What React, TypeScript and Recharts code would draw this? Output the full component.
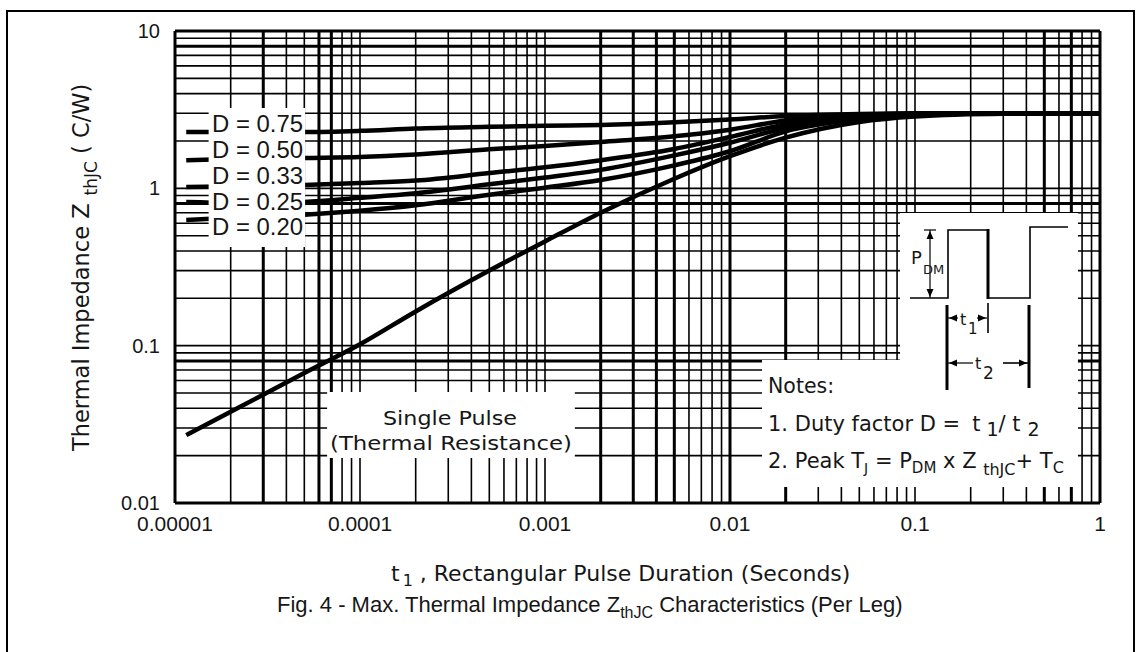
import React from 'react';
import { LineChart, Line, XAxis, YAxis, ReferenceLine, ReferenceArea } from 'recharts';

// ---- axis ticks ----
const xTicks = [1e-5, 1e-4, 1e-3, 1e-2, 1e-1, 1];
const xTickLabels = ['0.00001', '0.0001', '0.001', '0.01', '0.1', '1'];
const yTicks = [0.01, 0.1, 1, 10];
const yTickLabels = ['0.01', '0.1', '1', '10'];

// ---- log grid lines ----
const xGrid = [
  1e-5, 2e-5, 3e-5, 4e-5, 5e-5, 6e-5, 7e-5, 8e-5, 9e-5,
  1e-4, 2e-4, 3e-4, 4e-4, 5e-4, 6e-4, 7e-4, 8e-4, 9e-4,
  1e-3, 2e-3, 3e-3, 4e-3, 5e-3, 6e-3, 7e-3, 8e-3, 9e-3,
  1e-2, 2e-2, 3e-2, 4e-2, 5e-2, 6e-2, 7e-2, 8e-2, 9e-2,
  0.1, 0.2, 0.3, 0.4, 0.5, 0.6, 0.7, 0.8, 0.9, 1,
];
const xGridHeavy = [1e-5, 3e-5, 6e-5, 7e-5, 2e-3, 3e-3, 4e-3, 5e-3, 1e-2, 2e-2, 0.5, 0.7, 1];
const yGrid = [
  0.01, 0.02, 0.03, 0.04, 0.05, 0.06, 0.07, 0.08, 0.09,
  0.1, 0.2, 0.3, 0.4, 0.5, 0.6, 0.7, 0.8, 0.9,
  1, 2, 3, 4, 5, 6, 7, 8, 9, 10,
];
const yGridHeavy = [0.01, 0.08, 0.8, 8, 10];

// ---- curves: t1 (s) vs ZthJC (C/W) ----
const pulseDuration = [1.15e-5, 2e-5, 5e-5, 1e-4, 2e-4, 5e-4, 1e-3, 2e-3, 5e-3, 1e-2, 2e-2, 5e-2, 0.1, 0.3, 1];
const zD075 = [2.28, 2.28, 2.28, 2.32, 2.4, 2.46, 2.5, 2.53, 2.63, 2.74, 2.88, 2.97, 3.0, 3.0, 3.0];
const zD050 = [1.51, 1.53, 1.56, 1.58, 1.64, 1.77, 1.86, 1.97, 2.14, 2.36, 2.7, 2.92, 2.98, 3.0, 3.0];
const zD033 = [1.02, 1.03, 1.05, 1.08, 1.12, 1.25, 1.36, 1.51, 1.78, 2.12, 2.55, 2.85, 2.96, 3.0, 3.0];
const zD025 = [0.82, 0.81, 0.82, 0.87, 0.93, 1.06, 1.17, 1.31, 1.62, 1.95, 2.42, 2.8, 2.94, 3.0, 3.0];
const zD020 = [0.63, 0.65, 0.68, 0.72, 0.78, 0.91, 1.01, 1.13, 1.4, 1.72, 2.3, 2.75, 2.92, 3.0, 3.0];
const zSingle = [0.027, 0.038, 0.067, 0.102, 0.165, 0.3, 0.46, 0.7, 1.15, 1.6, 2.1, 2.64, 2.86, 2.98, 3.0];

const seriesKeys = ['d075', 'd050', 'd033', 'd025', 'd020', 'single'];
const seriesValues = [zD075, zD050, zD033, zD025, zD020, zSingle];

const data = pulseDuration.map((t, i) => {
  const row: Record<string, number> = { t };
  seriesKeys.forEach((k, j) => {
    row[k] = seriesValues[j][i];
  });
  return row;
});

// white label panels (data units)
const panels = [
  { x1: 1.52e-5, x2: 5.05e-5, y1: 0.424, y2: 3.24 },
  { x1: 6.64e-5, x2: 1.45e-3, y1: 0.0193, y2: 0.0507 },
  { x1: 0.083, x2: 0.76, y1: 0.081, y2: 0.697 },
  { x1: 0.0149, x2: 0.76, y1: 0.01264, y2: 0.081 },
];

const dLabels = ['D = 0.75', 'D = 0.50', 'D = 0.33', 'D = 0.25', 'D = 0.20'];
const dLabelBaselines = [132, 158, 184, 210, 235];

const W = 1141;
const H = 652;
const sans = "'DejaVu Sans', sans-serif";
const arial = "'Liberation Sans', Arial, sans-serif";
const ink = '#161616';

const fmtX = (v: number) => {
  const i = xTicks.findIndex((t) => Math.abs(Math.log10(t) - Math.log10(v)) < 1e-6);
  return i >= 0 ? xTickLabels[i] : '';
};
const fmtY = (v: number) => {
  const i = yTicks.findIndex((t) => Math.abs(Math.log10(t) - Math.log10(v)) < 1e-6);
  return i >= 0 ? yTickLabels[i] : '';
};

const Arrow = ({ x, y, dir }: { x: number; y: number; dir: 'l' | 'r' | 'u' | 'd' }) => {
  const s = 5;
  let pts = '';
  if (dir === 'l') pts = `${x},${y} ${x + s * 1.6},${y - s * 0.7} ${x + s * 1.6},${y + s * 0.7}`;
  if (dir === 'r') pts = `${x},${y} ${x - s * 1.6},${y - s * 0.7} ${x - s * 1.6},${y + s * 0.7}`;
  if (dir === 'u') pts = `${x},${y} ${x - s * 0.7},${y + s * 1.6} ${x + s * 0.7},${y + s * 1.6}`;
  if (dir === 'd') pts = `${x},${y} ${x - s * 0.7},${y - s * 1.6} ${x + s * 0.7},${y - s * 1.6}`;
  return <polygon points={pts} fill="#000" />;
};

export default function App() {
  return (
    <div
      style={{
        position: 'absolute',
        left: 0,
        top: 0,
        width: W,
        height: H,
        overflow: 'hidden',
        background: '#fff',
      }}
    >
      <div
        style={{
          position: 'absolute',
          left: 6,
          top: 10,
          width: 1129,
          height: 700,
          boxSizing: 'border-box',
          border: '2px solid #000',
        }}
      />
      <div style={{ position: 'absolute', left: 0, top: 0 }}>
        <LineChart
          width={W}
          height={H}
          data={data}
          margin={{ top: 31, right: 41, bottom: 119, left: 115 }}
        >
          <XAxis
            dataKey="t"
            type="number"
            scale="log"
            domain={[1e-5, 1]}
            allowDataOverflow
            ticks={xTicks}
            interval={0}
            tickFormatter={fmtX}
            axisLine={false}
            tickLine={false}
            tickMargin={7}
            height={30}
            tick={{ fontSize: 21, fill: ink, fontFamily: arial }}
          />
          <YAxis
            type="number"
            scale="log"
            domain={[0.01, 10]}
            allowDataOverflow
            ticks={yTicks}
            interval={0}
            tickFormatter={fmtY}
            axisLine={false}
            tickLine={false}
            tickMargin={9}
            width={60}
            tick={{ fontSize: 20, fill: ink, fontFamily: arial }}
          />
          {xGrid.map((v) => (
            <ReferenceLine
              key={'vx' + v}
              x={v}
              stroke="#000"
              strokeWidth={xGridHeavy.includes(v) ? 3 : 1.6}
              zIndex={-50}
            />
          ))}
          {yGrid.map((v) => (
            <ReferenceLine
              key={'hy' + v}
              y={v}
              stroke="#000"
              strokeWidth={yGridHeavy.includes(v) ? 3 : 1.6}
              zIndex={-50}
            />
          ))}
          {seriesKeys.map((k) => (
            <Line
              key={k}
              dataKey={k}
              type="monotone"
              stroke="#000"
              strokeWidth={4.5}
              dot={false}
              activeDot={false}
              isAnimationActive={false}
            />
          ))}
          {panels.map((p, i) => (
            <ReferenceArea
              key={'p' + i}
              x1={p.x1}
              x2={p.x2}
              y1={p.y1}
              y2={p.y2}
              fill="#fff"
              fillOpacity={1}
              stroke="none"
              zIndex={450}
            />
          ))}
        </LineChart>
      </div>
      <svg
        width={W}
        height={H}
        style={{ position: 'absolute', left: 0, top: 0, pointerEvents: 'none' }}
      >
        {/* D labels */}
        {dLabels.map((s, i) => (
          <text
            key={s}
            x={212}
            y={dLabelBaselines[i]}
            fontFamily={arial}
            fontSize={23}
            fill={ink}
            textLength={91}
            lengthAdjust="spacingAndGlyphs"
          >
            {s}
          </text>
        ))}

        {/* Single pulse */}
        <text x={450} y={425} textAnchor="middle" fontFamily={sans} fontSize={20} fill={ink} textLength={134} lengthAdjust="spacingAndGlyphs">
          Single Pulse
        </text>
        <text x={451} y={450} textAnchor="middle" fontFamily={sans} fontSize={20} fill={ink} textLength={242} lengthAdjust="spacingAndGlyphs">
          (Thermal Resistance)
        </text>

        {/* Notes */}
        <text x={768} y={393} fontFamily={sans} fontSize={20.5} fill={ink}>
          Notes:
        </text>
        <text x={768} y={431} fontFamily={sans} fontSize={21} fill={ink}>
          1. Duty factor D =
          <tspan dx={12}>t</tspan>
          <tspan dx={6} dy={5} fontSize={19}>1</tspan>
          <tspan dy={-5}>/ t</tspan>
          <tspan dx={7} dy={5} fontSize={19}>2</tspan>
        </text>
        <text x={768} y={468} fontFamily={sans} fontSize={21} fill={ink}>
          2. Peak T
          <tspan dy={5} fontSize={14}>J</tspan>
          <tspan dy={-5}> = P</tspan>
          <tspan dy={5} fontSize={15}>DM</tspan>
          <tspan dy={-5}> x Z </tspan>
          <tspan dy={7} fontSize={16}>thJC</tspan>
          <tspan dy={-7}>+ T</tspan>
          <tspan dy={5} fontSize={16}>C</tspan>
        </text>

        {/* Pulse diagram */}
        <polyline
          points="910,298 948,298 948,230 988,230"
          fill="none"
          stroke="#000"
          strokeWidth={1.6}
        />
        <line x1={988} y1={229} x2={988} y2={299} stroke="#000" strokeWidth={3} />
        <polyline
          points="988,298 1030,298 1030,227 1068,227"
          fill="none"
          stroke="#000"
          strokeWidth={1.6}
        />
        <line x1={924} y1={230} x2={936} y2={230} stroke="#000" strokeWidth={1.2} />
        <line x1={930} y1={230} x2={930} y2={298} stroke="#000" strokeWidth={1.2} />
        <Arrow x={930} y={231} dir="u" />
        <Arrow x={930} y={297} dir="d" />
        <text x={911} y={264} fontFamily={sans} fontSize={18} fill={ink}>P</text>
        <text x={923} y={274} fontFamily={sans} fontSize={13} fill={ink}>DM</text>

        <line x1={947} y1={305} x2={947} y2={390} stroke="#000" strokeWidth={3} />
        <line x1={988} y1={303} x2={988} y2={333} stroke="#000" strokeWidth={1.6} />
        <line x1={1029} y1={305} x2={1029} y2={388} stroke="#000" strokeWidth={3} />
        <line x1={948} y1={318} x2={958} y2={318} stroke="#000" strokeWidth={1.2} />
        <line x1={977} y1={318} x2={987} y2={318} stroke="#000" strokeWidth={1.2} />
        <Arrow x={949} y={318} dir="l" />
        <Arrow x={986} y={318} dir="r" />
        <text x={960} y={325} fontFamily={sans} fontSize={16} fill={ink}>t</text>
        <text x={968} y={334} fontFamily={sans} fontSize={15} fill={ink}>1</text>
        <line x1={948} y1={363} x2={973} y2={363} stroke="#000" strokeWidth={1.2} />
        <line x1={1003} y1={363} x2={1028} y2={363} stroke="#000" strokeWidth={1.6} />
        <Arrow x={949} y={363} dir="l" />
        <Arrow x={1027} y={363} dir="r" />
        <text x={975} y={369} fontFamily={sans} fontSize={16} fill={ink}>t</text>
        <text x={983} y={379} fontFamily={sans} fontSize={17} fill={ink}>2</text>

        {/* Y axis title */}
        <text
          transform="translate(89,451) rotate(-90)"
          fontFamily={sans}
          fontSize={22.5}
          fill={ink}
        >
          Thermal Impedance Z
          <tspan dx={8} dy={8} fontSize={17}>thJC</tspan>
          <tspan dy={-8}> ( C/W)</tspan>
        </text>

        {/* X axis title */}
        <text x={391} y={581} fontFamily={sans} fontSize={22} fill={ink}>
          t
          <tspan dx={3} dy={5} fontSize={16}>1</tspan>
          <tspan dy={-5}> , Rectangular Pulse Duration (Seconds)</tspan>
        </text>

        {/* Caption */}
        <text x={277} y={612} fontFamily={arial} fontSize={22} fill={ink}>
          Fig. 4 - Max. Thermal Impedance Z
          <tspan dy={6} fontSize={16}>thJC</tspan>
          <tspan dy={-6}> Characteristics (Per Leg)</tspan>
        </text>
      </svg>
    </div>
  );
}
